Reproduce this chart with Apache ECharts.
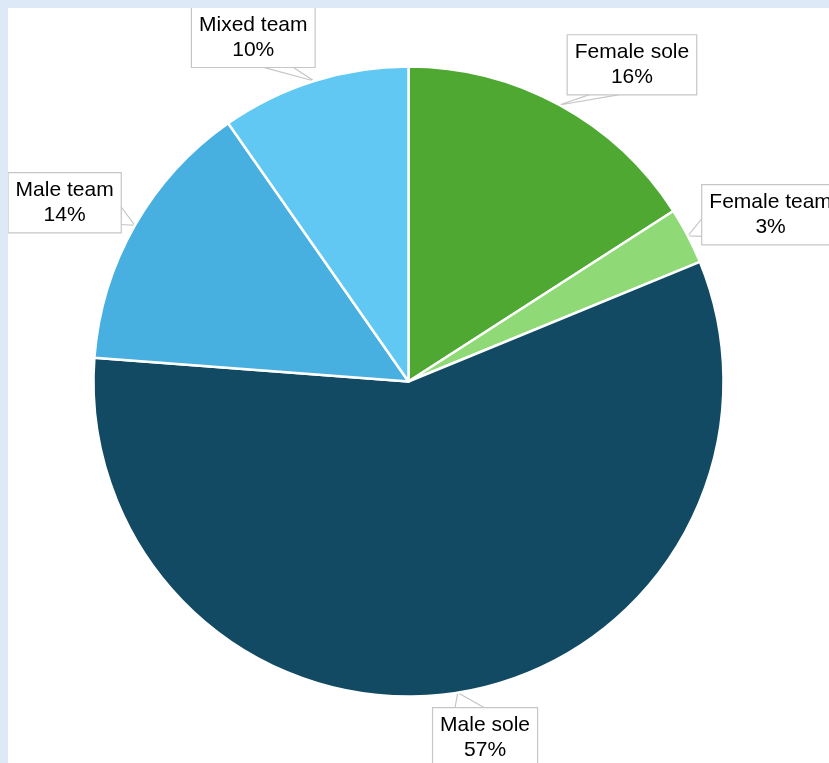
<!DOCTYPE html>
<html>
<head>
<meta charset="utf-8">
<script src="https://cdn.jsdelivr.net/npm/echarts@6/dist/echarts.min.js"></script>
<style>
  html, body { margin: 0; padding: 0; width: 829px; height: 763px; background: #dde9f6; overflow: hidden; }
  #chart { position: absolute; left: 8px; top: 8px; width: 821px; height: 755px; background: #ffffff; }
</style>
</head>
<body>
<div id="chart"></div>
<script>
// Data
const categories = ['Female sole', 'Female team', 'Male sole', 'Male team', 'Mixed team'];
const values = [15.9, 2.9, 57.4, 14.1, 9.7];
const colors = ['#4fa832', '#8fd976', '#124a63', '#47b0e0', '#60c8f2'];

const chart = echarts.init(document.getElementById('chart'), null, { renderer: 'canvas' });

function clamp(v, a, b) { return Math.max(a, Math.min(b, v)); }

const option = {
  animation: false,
  backgroundColor: 'transparent',
  series: [{
    type: 'pie',
    center: [400.5, 373.5],
    radius: [0, 315],
    startAngle: 90,
    clockwise: true,
    avoidLabelOverlap: false,
    silent: true,
    data: categories.map((c, i) => ({ name: c, value: values[i], itemStyle: { color: colors[i] } })),
    itemStyle: { borderColor: '#ffffff', borderWidth: 2.5 },
    label: {
      show: true,
      position: 'outside',
      formatter: p => p.name + '\n' + Math.round(p.percent) + '%',
      fontFamily: '"Liberation Sans", Arial, Helvetica, sans-serif',
      fontSize: 21,
      lineHeight: 25,
      color: '#000000',
      align: 'center',
      backgroundColor: '#ffffff',
      borderColor: '#c6c6c6',
      borderWidth: 1.2,
      padding: [5, 7, 4, 7]
    },
    labelLine: {
      show: true,
      length: 12,
      length2: 6,
      lineStyle: { color: '#c6c6c6', width: 1.2 }
    },
    labelLayout: function (params) {
      const pts = params.labelLinePoints;
      if (!pts) return {};
      const p0 = pts[0], p1 = pts[1];
      let rx = p1[0] - p0[0], ry = p1[1] - p0[1];
      const len = Math.sqrt(rx * rx + ry * ry) || 1;
      rx /= len; ry /= len;
      const w = params.labelRect.width, h = params.labelRect.height;
      const d = 15;
      const ax = p0[0] + rx * d, ay = p0[1] + ry * d;
      const sx = clamp(rx * 3.0, -1, 1);
      const cx = ax + w / 2 * sx;
      const cy = ay + h / 2 * ry;
      let b1, b2;
      if (Math.abs(ry) > 0.7) {
        const ey = ry < 0 ? cy + h / 2 - 1 : cy - h / 2 + 1;
        const bx = clamp(p0[0], cx - w / 2 + 38, cx + w / 2 - 38);
        b1 = [bx - 15, ey]; b2 = [bx + 15, ey];
      } else {
        const ex = rx > 0 ? cx - w / 2 + 1 : cx + w / 2 - 1;
        const by = clamp(p0[1], cy - h / 2 + 18, cy + h / 2 - 18);
        b1 = [ex, by - 9]; b2 = [ex, by + 9];
      }
      return {
        x: cx,
        y: cy,
        align: 'center',
        verticalAlign: 'middle',
        labelLinePoints: [b1, [p0[0], p0[1]], b2]
      };
    },
    emphasis: { disabled: true }
  }]
};
chart.setOption(option);
</script>
</body>
</html>
